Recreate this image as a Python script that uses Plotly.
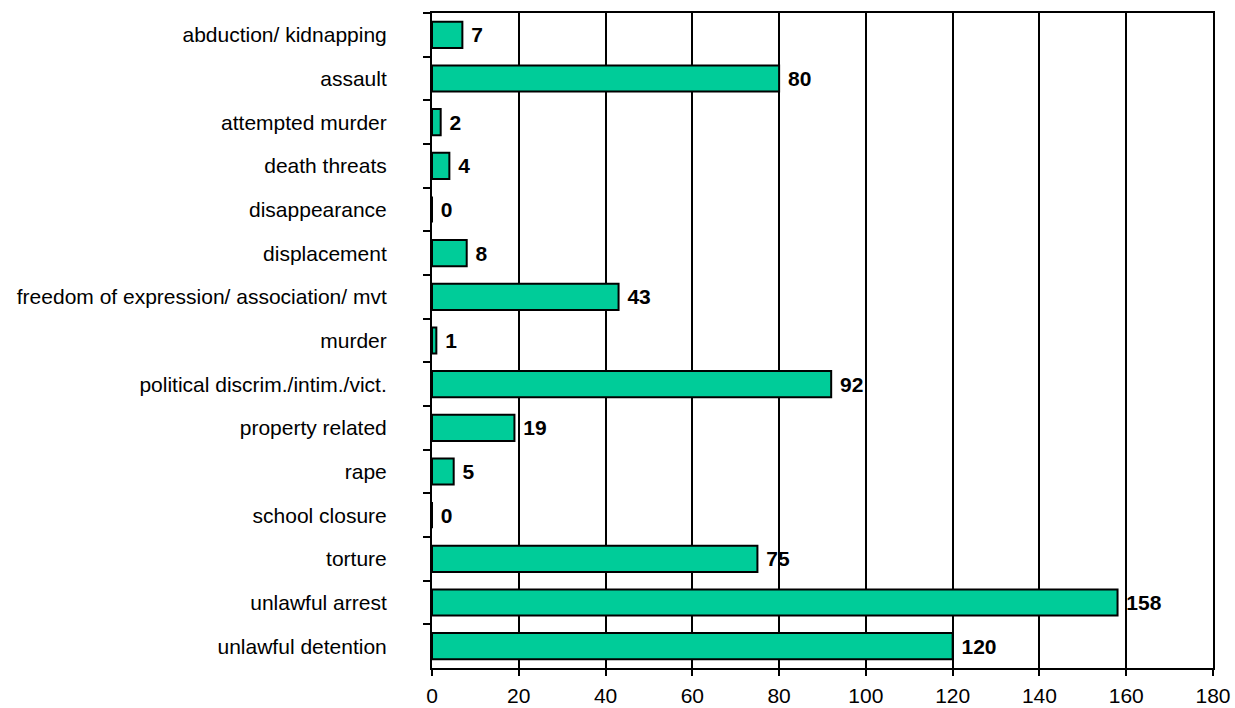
import plotly.graph_objects as go

categories = ["abduction/ kidnapping", "assault", "attempted murder", "death threats",
              "disappearance", "displacement", "freedom of expression/ association/ mvt",
              "murder", "political discrim./intim./vict.", "property related", "rape",
              "school closure", "torture", "unlawful arrest", "unlawful detention"]
values = [7, 80, 2, 4, 0, 8, 43, 1, 92, 19, 5, 0, 75, 158, 120]
x_ticks = [0, 20, 40, 60, 80, 100, 120, 140, 160, 180]

FONT = "Liberation Sans, Arial"

fig = go.Figure(go.Bar(
    y=categories, x=values, orientation="h",
    marker=dict(color="#00CC99", line=dict(color="black", width=2)),
    text=[" " + str(v) for v in values], textposition="outside",
    textfont=dict(family=FONT, size=21, color="black", weight="bold"),
    cliponaxis=False, width=0.6,
))

fig.update_layout(
    width=1235, height=708,
    margin=dict(l=432, r=22, t=13, b=40, autoexpand=False),
    plot_bgcolor="white", paper_bgcolor="white",
    font=dict(family=FONT, size=21, color="black"),
    showlegend=False,
)
fig.update_xaxes(range=[0, 180], tickvals=x_ticks, showgrid=True, gridcolor="black", gridwidth=2,
                 showline=True, linecolor="black", linewidth=2, mirror=True,
                 ticks="outside", ticklen=6, tickwidth=2, tickcolor="black", zeroline=False,
                 ticklabelstandoff=2, automargin=False)
fig.update_yaxes(categoryorder="array", categoryarray=categories, autorange="reversed",
                 showline=True, linecolor="black", linewidth=2, mirror=True,
                 ticks="outside", tickson="boundaries", ticklen=7, tickwidth=2, tickcolor="black",
                 showgrid=False, ticklabelstandoff=39, automargin=False)

fig.write_html("out.html", config={"displayModeBar": False},
               post_script="document.body.style.margin='0';document.body.style.overflow='hidden';")
